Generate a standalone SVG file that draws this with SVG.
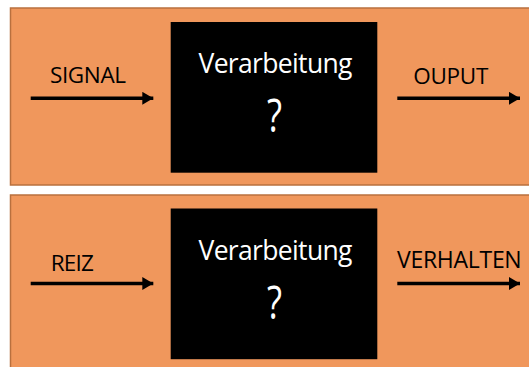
<svg xmlns="http://www.w3.org/2000/svg" width="529" height="367" viewBox="0 0 529 367">
<defs>
<style>
.panel{fill:#F0975C;stroke:#B9703E;stroke-width:1.5}
.box{fill:#000}
.lbl{font-family:"Open Sans","Liberation Sans",sans-serif;fill:#000}
.big{font-family:"Open Sans","Liberation Sans",sans-serif;fill:#fff;text-anchor:middle}
.arr{stroke:#000;stroke-width:3.6;fill:none;marker-end:url(#ah)}
</style>
<marker id="ah" markerUnits="userSpaceOnUse" markerWidth="12" markerHeight="13" refX="11" refY="6.5" orient="auto">
<path d="M0,0 L11,6.5 L0,13 Z" fill="#000"/>
</marker>
</defs>
<rect width="529" height="367" fill="#fff"/>
<g id="panel-top">
<rect class="panel" x="10.5" y="8" width="530" height="177"/>
</g>
<g id="panel-bottom">
<rect class="panel" x="10.5" y="195" width="530" height="180"/>
</g>
<g id="box-top">
<rect class="box" x="170.7" y="22" width="206.6" height="150.7"/>
<text class="big" x="275.5" y="73.3" font-size="26.5" textLength="154">Verarbeitung</text>
<text class="big" x="274.5" y="132" font-size="46" textLength="15" lengthAdjust="spacingAndGlyphs">?</text>
</g>
<g id="box-bottom">
<rect class="box" x="170.7" y="208.5" width="206.6" height="150.7"/>
<text class="big" x="275.5" y="260" font-size="26.5" textLength="154">Verarbeitung</text>
<text class="big" x="274.5" y="318.5" font-size="46" textLength="15" lengthAdjust="spacingAndGlyphs">?</text>
</g>
<g id="label-signal"><text class="lbl" x="50" y="83.3" font-size="22.5" textLength="76">SIGNAL</text></g>
<g id="label-ouput"><text class="lbl" x="413.3" y="84" font-size="22.5" textLength="75">OUPUT</text></g>
<g id="label-reiz"><text class="lbl" x="50.7" y="270.7" font-size="22.5" textLength="43.3">REIZ</text></g>
<g id="label-verhalten"><text class="lbl" x="397" y="268.3" font-size="23" textLength="124.7">VERHALTEN</text></g>
<g id="connectors">
<line class="arr" x1="30.7" y1="98.3" x2="153.3" y2="98.3"/>
<line class="arr" x1="397.3" y1="98.3" x2="520" y2="98.3"/>
<line class="arr" x1="30.7" y1="283.5" x2="153.3" y2="283.5"/>
<line class="arr" x1="397.3" y1="283.5" x2="520" y2="283.5"/>
</g>
</svg>
